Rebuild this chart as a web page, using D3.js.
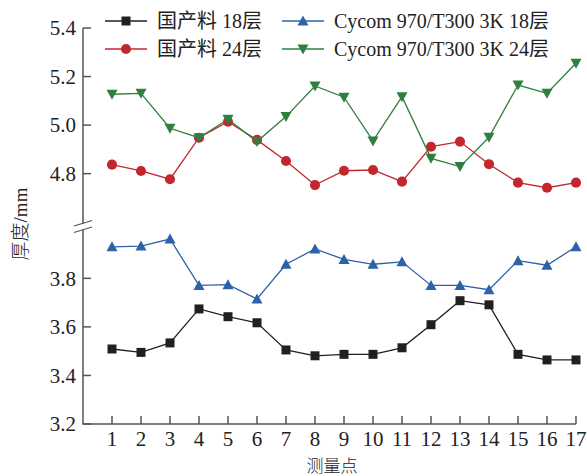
<!DOCTYPE html>
<html>
<head>
<meta charset="utf-8">
<script src="https://cdn.jsdelivr.net/npm/d3@7/dist/d3.min.js"></script>
<style>
    body { margin: 0; background: #fff; }
    text { font-family: "Liberation Serif", "Noto Sans CJK SC", serif; fill: #222; }
</style>
</head>
<body>
<div id="chart"></div>
<script>
var width = 587,
    height = 476;

// data
var points = d3.range(1, 18);
var xTicks = d3.range(1, 18);
var lowerTicks = [3.2, 3.4, 3.6, 3.8];
var upperTicks = [4.8, 5.0, 5.2, 5.4];

var seriesNames = ["国产料 18层", "Cycom 970/T300 3K 18层", "国产料 24层", "Cycom 970/T300 3K 24层"];

var dom18 = [3.509, 3.495, 3.534, 3.674, 3.642, 3.617, 3.505, 3.481, 3.487, 3.487, 3.514, 3.609, 3.708, 3.691, 3.487, 3.464, 3.464];
var cycom18 = [3.930, 3.933, 3.962, 3.771, 3.774, 3.715, 3.858, 3.921, 3.878, 3.858, 3.868, 3.771, 3.771, 3.753, 3.873, 3.854, 3.930];
var dom24 = [4.837, 4.811, 4.777, 4.948, 5.014, 4.939, 4.852, 4.753, 4.812, 4.815, 4.767, 4.911, 4.932, 4.839, 4.763, 4.742, 4.763];
var cycom24 = [5.127, 5.131, 4.987, 4.948, 5.024, 4.932, 5.035, 5.161, 5.115, 4.935, 5.117, 4.863, 4.829, 4.950, 5.165, 5.131, 5.255];

var colors = ["#231f20", "#2c62a7", "#c4262e", "#2f7f3f"];
var symbols = [d3.symbolSquare, "up", d3.symbolCircle, "down"];

var svg = d3.select("#chart").append("svg")
    .attr("width", width)
    .attr("height", height);

var x = d3.scaleLinear().domain([0, 17]).range([83, 576]);
var yLow = d3.scaleLinear().domain([3.2, 4.0]).range([424, 229.8]);
var yHigh = d3.scaleLinear().domain([4.6, 5.4]).range([222.2, 28]);

var axisColor = "#555";

/** axes */
svg.append("line")
    .attr("x1", x(0)).attr("x2", x(0))
    .attr("y1", yHigh(5.4)).attr("y2", 224)
    .attr("stroke", axisColor).attr("stroke-width", 1.5);
svg.append("line")
    .attr("x1", x(0)).attr("x2", x(0))
    .attr("y1", 229.5).attr("y2", yLow(3.2))
    .attr("stroke", axisColor).attr("stroke-width", 1.5);
svg.append("line")
    .attr("x1", x(0) - 0.75).attr("x2", x(17))
    .attr("y1", yLow(3.2)).attr("y2", yLow(3.2))
    .attr("stroke", axisColor).attr("stroke-width", 1.5);

// break marks
[226, 232.5].forEach(function (yy) {
    svg.append("line")
        .attr("x1", x(0) - 9).attr("y1", yy)
        .attr("x2", x(0) + 9).attr("y2", yy - 5.5)
        .attr("stroke", axisColor).attr("stroke-width", 1.3);
});

// y ticks
function yTicks(scale, ticks) {
    ticks.forEach(function (t) {
        svg.append("line")
            .attr("x1", x(0)).attr("x2", x(0) + 8)
            .attr("y1", scale(t)).attr("y2", scale(t))
            .attr("stroke", axisColor).attr("stroke-width", 1.5);
        svg.append("text")
            .attr("x", 76)
            .attr("y", scale(t))
            .attr("dy", "0.35em")
            .style("text-anchor", "end")
            .style("font-size", "21px")
            .text(d3.format(".1f")(t));
    });
}
yTicks(yLow, lowerTicks);
yTicks(yHigh, upperTicks);

// x ticks
xTicks.forEach(function (t) {
    svg.append("line")
        .attr("x1", x(t)).attr("x2", x(t))
        .attr("y1", yLow(3.2)).attr("y2", yLow(3.2) - 8)
        .attr("stroke", axisColor).attr("stroke-width", 1.5);
    svg.append("text")
        .attr("x", x(t))
        .attr("y", 446)
        .style("text-anchor", "middle")
        .style("font-size", "21px")
        .text(t);
});

svg.append("text")
    .attr("x", 332)
    .attr("y", 472)
    .style("text-anchor", "middle")
    .style("font-family", "'Noto Sans CJK SC', serif")
    .style("font-size", "17px")
    .style("font-weight", "300")
    .text("测量点");

svg.append("text")
    .attr("transform", "translate(27,224) rotate(-90)")
    .style("text-anchor", "middle")
    .style("font-size", "19px")
    .style("font-weight", "300")
    .text("厚度/mm");

/** marker drawing */
function drawMarker(g, type, color, cx, cy) {
    if (type === "up" || type === "down") {
        var w = 11, h = 10;
        var s = type === "up" ? 1 : -1;
        g.append("path")
            .attr("d", "M" + cx + "," + (cy - s * h * 0.55) +
                "L" + (cx + w / 2) + "," + (cy + s * h * 0.45) +
                "L" + (cx - w / 2) + "," + (cy + s * h * 0.45) + "Z")
            .attr("fill", color);
    } else {
        var size = type === d3.symbolSquare ? 81 : 80;
        g.append("path")
            .attr("d", d3.symbol().type(type).size(size)())
            .attr("transform", "translate(" + cx + "," + cy + ")")
            .attr("fill", color);
    }
}

var allSeries = [
    {name: seriesNames[0], values: dom18, scale: yLow},
    {name: seriesNames[1], values: cycom18, scale: yLow},
    {name: seriesNames[2], values: dom24, scale: yHigh},
    {name: seriesNames[3], values: cycom24, scale: yHigh}
];

allSeries.forEach(function (s, i) {
    var g = svg.append("g");
    var line = d3.line()
        .x(function (d, j) { return x(points[j]); })
        .y(function (d) { return s.scale(d); });
    g.append("path")
        .datum(s.values)
        .attr("d", line)
        .attr("fill", "none")
        .attr("stroke", colors[i])
        .attr("stroke-width", 1.3);
    s.values.forEach(function (v, j) {
        drawMarker(g, symbols[i], colors[i], x(points[j]), s.scale(v));
    });
});

/** legend */
var legendPos = [
    {x: 105, y: 21},
    {x: 282, y: 21},
    {x: 105, y: 49},
    {x: 282, y: 49}
];

allSeries.forEach(function (s, i) {
    var p = legendPos[i];
    var lg = svg.append("g");
    lg.append("line")
        .attr("x1", p.x).attr("x2", p.x + 42)
        .attr("y1", p.y).attr("y2", p.y)
        .attr("stroke", colors[i]).attr("stroke-width", 1.3);
    drawMarker(lg, symbols[i], colors[i], p.x + 21, p.y);
    lg.append("text")
        .attr("x", p.x + 52)
        .attr("y", p.y)
        .attr("dy", "0.35em")
        .style("font-size", "20px")
        .text(s.name);
});
</script>
</body>
</html>
